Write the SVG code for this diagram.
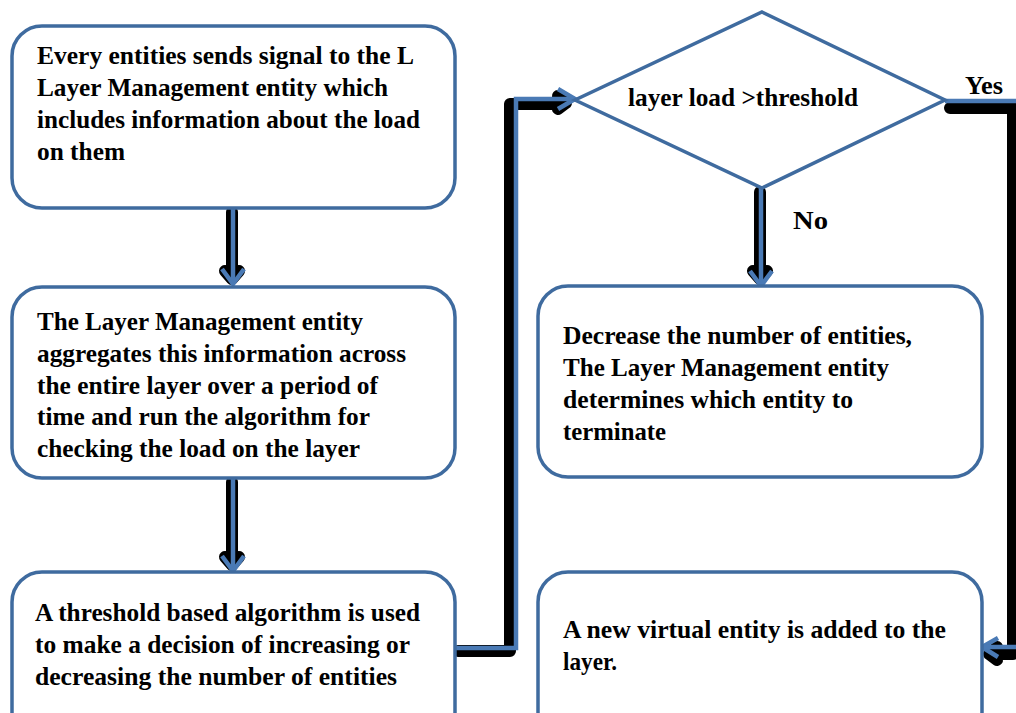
<svg xmlns="http://www.w3.org/2000/svg" width="1016" height="713" viewBox="0 0 1016 713">
  <style>
    .box { fill: #ffffff; stroke: #3f6b9f; stroke-width: 3.5; }
    .shadow { fill: none; stroke: #000000; stroke-width: 12; stroke-linecap: round; stroke-linejoin: round; }
    .line { fill: none; stroke: #4a7ab5; stroke-width: 4.5; stroke-linejoin: miter; }
    .head { fill: none; stroke: #4a7ab5; stroke-width: 4.5; stroke-linejoin: miter; }
    .headShadow { fill: none; stroke: #000000; stroke-width: 12; stroke-linecap: round; stroke-linejoin: round; }
  </style>
  <rect width="1016" height="713" fill="#ffffff"/>

  <!-- all labels share one serif bold face -->
  <g font-family="Liberation Serif, Times New Roman, serif" font-weight="bold" font-size="25" fill="#000000">

  <!-- connectors: black drop shadow under a blue stroke -->
  <g id="connectors">
    <!-- box 1 to box 2 -->
    <path class="shadow" d="M232 212 V274"/>
    <path class="headShadow" d="M225 271 L232 279 L239 271"/>
    <path class="line" d="M233 208 V284"/>
    <path class="head" d="M222 269 L233 284 L244 269"/>

    <!-- box 2 to box 3 -->
    <path class="shadow" d="M232 482 V560"/>
    <path class="headShadow" d="M225 557 L232 565 L239 557"/>
    <path class="line" d="M233 478 V571"/>
    <path class="head" d="M222 556 L233 571 L244 556"/>

    <!-- box 3 to decision -->
    <path class="shadow" d="M458 651 H510 V104 H563"/>
    <path class="headShadow" d="M558 96 L566 103 L558 109"/>
    <path class="line" d="M455 648 H516 V99 H575"/>
    <path class="head" d="M558 89 L575 99 L558 109"/>

    <!-- decision "No" branch -->
    <path class="shadow" d="M760 192 V274"/>
    <path class="headShadow" d="M753 271 L760 279 L767 271"/>
    <path class="line" d="M761 188 V286"/>
    <path class="head" d="M750 271 L761 286 L772 271"/>

    <!-- decision "Yes" branch -->
    <path class="shadow" d="M950 108 H1013 V654 H991"/>
    <path class="headShadow" d="M997 647 L989 654 L997 660"/>
    <path class="line" d="M945 101 H1016"/>
    <path class="head" d="M998 638 L982 647 L998 657"/>
    <path class="line" d="M982 647 H1016"/>

    <text x="965" y="94" textLength="38" lengthAdjust="spacingAndGlyphs">Yes</text>
    <text x="793" y="229" textLength="35" lengthAdjust="spacingAndGlyphs">No</text>
  </g>

  <g id="node-signal">
    <rect class="box" x="12" y="26" width="443" height="182" rx="30"/>
    <text x="37" y="64" textLength="377" lengthAdjust="spacingAndGlyphs">Every entities sends signal to the L</text>
    <text x="37" y="96" textLength="351" lengthAdjust="spacingAndGlyphs">Layer Management entity which</text>
    <text x="37" y="128" textLength="383" lengthAdjust="spacingAndGlyphs">includes information about the load</text>
    <text x="37" y="160" textLength="88" lengthAdjust="spacingAndGlyphs">on them</text>
  </g>

  <g id="node-aggregate">
    <rect class="box" x="12" y="287" width="443" height="191" rx="30"/>
    <text x="37" y="330" textLength="326" lengthAdjust="spacingAndGlyphs">The Layer Management entity</text>
    <text x="37" y="362" textLength="369" lengthAdjust="spacingAndGlyphs">aggregates this information across</text>
    <text x="37" y="394" textLength="341" lengthAdjust="spacingAndGlyphs">the entire layer over a period of</text>
    <text x="37" y="425" textLength="333" lengthAdjust="spacingAndGlyphs">time and run the algorithm  for</text>
    <text x="37" y="457" textLength="323" lengthAdjust="spacingAndGlyphs">checking the load on the layer</text>
  </g>

  <g id="node-threshold">
    <rect class="box" x="12" y="572" width="443" height="170" rx="30"/>
    <text x="35" y="621" textLength="385" lengthAdjust="spacingAndGlyphs">A threshold based algorithm is used</text>
    <text x="35" y="653" textLength="375" lengthAdjust="spacingAndGlyphs">to make a decision of increasing or</text>
    <text x="35" y="685" textLength="362" lengthAdjust="spacingAndGlyphs">decreasing the number of  entities</text>
  </g>

  <g id="node-decision">
    <polygon class="box" points="762,12 945,100 762,188 575,100"/>
    <text x="628" y="106" textLength="230" lengthAdjust="spacingAndGlyphs">layer load &gt;threshold</text>
  </g>

  <g id="node-decrease">
    <rect class="box" x="538" y="286" width="444" height="191" rx="30"/>
    <text x="563" y="344" textLength="349" lengthAdjust="spacingAndGlyphs">Decrease the number of entities,</text>
    <text x="563" y="376" textLength="326" lengthAdjust="spacingAndGlyphs">The Layer Management entity</text>
    <text x="563" y="408" textLength="290" lengthAdjust="spacingAndGlyphs">determines which entity to</text>
    <text x="563" y="440" textLength="103" lengthAdjust="spacingAndGlyphs">terminate</text>
  </g>

  <g id="node-add">
    <rect class="box" x="538" y="572" width="444" height="170" rx="30"/>
    <text x="563" y="638" textLength="383" lengthAdjust="spacingAndGlyphs">A new virtual  entity  is added to the</text>
    <text x="563" y="670" textLength="54" lengthAdjust="spacingAndGlyphs">layer.</text>
  </g>

  </g>
</svg>
